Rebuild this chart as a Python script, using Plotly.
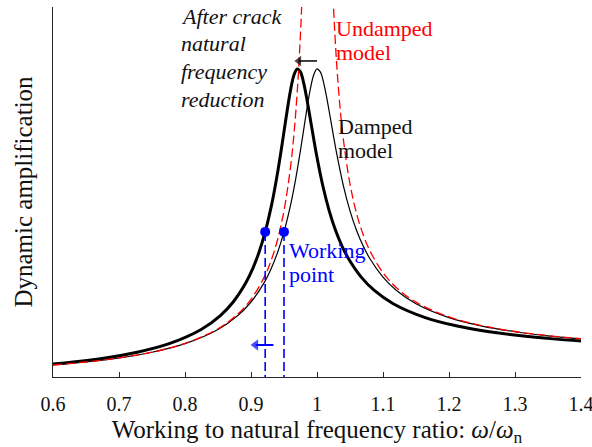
import plotly.graph_objects as go

# Frequency ratio samples (omega / omega_n) for the intact damped model
ratio_intact = [0.61, 0.65, 0.70, 0.75, 0.80, 0.85, 0.88, 0.90, 0.92, 0.93, 0.94, 0.95,
                0.96, 0.965, 0.97, 0.975, 0.98, 0.985, 0.99, 0.995, 1.0, 1.005, 1.01,
                1.015, 1.02, 1.025, 1.03, 1.04, 1.05, 1.06, 1.07, 1.08, 1.10, 1.12,
                1.15, 1.20, 1.25, 1.30, 1.35, 1.40, 1.45]
amp_damped = [0.592, 0.730, 0.958, 1.279, 1.763, 2.564, 3.348, 4.111, 5.205, 5.946,
              6.874, 8.059, 9.584, 10.502, 11.531, 12.663, 13.863, 15.059, 16.128,
              16.904, 17.241, 17.076, 16.472, 15.567, 14.523, 13.456, 12.436, 10.659,
              9.247, 8.139, 7.263, 6.560, 5.513, 4.777, 4.016, 3.233, 2.755, 2.435,
              2.206, 2.034, 1.902]

# Damped response after the crack (natural frequency lowered)
ratio_cracked = [0.5917, 0.6305, 0.679, 0.7275, 0.776, 0.8245, 0.8536, 0.873, 0.8924,
                 0.9021, 0.9118, 0.9215, 0.9312, 0.93605, 0.9409, 0.94575, 0.9506,
                 0.95545, 0.9603, 0.96515, 0.97, 0.97485, 0.9797, 0.98455, 0.9894,
                 0.99425, 0.9991, 1.0088, 1.0185, 1.0282, 1.0379, 1.0476, 1.067,
                 1.0864, 1.1155, 1.164, 1.2125, 1.261, 1.3095, 1.358, 1.4065]
amp_cracked = [0.592, 0.730, 0.958, 1.279, 1.763, 2.564, 3.348, 4.111, 5.205, 5.946,
               6.874, 8.059, 9.584, 10.502, 11.531, 12.663, 13.863, 15.059, 16.128,
               16.904, 17.241, 17.076, 16.472, 15.567, 14.523, 13.456, 12.436, 10.659,
               9.247, 8.139, 7.263, 6.560, 5.513, 4.777, 4.016, 3.233, 2.755, 2.435,
               2.206, 2.034, 1.902]

# Undamped model: two branches either side of resonance
ratio_undamped_lo = [0.60, 0.65, 0.70, 0.75, 0.80, 0.85, 0.88, 0.90, 0.92, 0.93, 0.94,
                     0.95, 0.96, 0.965, 0.97, 0.975, 0.9775, 0.98]
amp_undamped_lo = [0.5625, 0.7316, 0.9608, 1.2857, 1.7778, 2.6036, 3.4326, 4.2632,
                   5.5104, 6.4019, 7.5911, 9.2564, 11.755, 13.540, 15.921, 19.253,
                   21.475, 24.253]
ratio_undamped_hi = [1.02, 1.025, 1.03, 1.035, 1.04, 1.05, 1.06, 1.07, 1.08, 1.10, 1.12,
                     1.15, 1.20, 1.25, 1.30, 1.35, 1.40]
amp_undamped_hi = [25.752, 20.753, 17.420, 15.040, 13.255, 10.756, 9.0906, 7.9013,
                   7.0096, 5.7619, 4.9308, 4.1008, 3.2727, 2.7778, 2.4493, 2.2158,
                   2.0417]

# Working points (before / after the crack) and the shift arrows
work_x = [0.9215, 0.95]
work_y = [8.06, 8.06]
peak_shift_x = [1.0, 0.9725]     # tail, head
peak_shift_y = [17.69, 17.69]
work_shift_x = [0.934, 0.907]    # tail, head
work_shift_y = [1.69, 1.69]

tick_vals = [0.6, 0.7, 0.8, 0.9, 1.0, 1.1, 1.2, 1.3, 1.4]
tick_text = ["0.6", "0.7", "0.8", "0.9", "1", "1.1", "1.2", "1.3", "1.4"]

y_range = [-0.114, 20.73]
serif = "Liberation Serif, Times New Roman, serif"
blue = "#0000ff"

fig = go.Figure()

fig.add_trace(go.Scatter(x=ratio_intact, y=amp_damped, mode="lines",
                         line=dict(color="black", width=1.2, shape="spline"),
                         hoverinfo="skip"))
fig.add_trace(go.Scatter(x=ratio_cracked, y=amp_cracked, mode="lines",
                         line=dict(color="black", width=3, shape="spline"),
                         hoverinfo="skip"))
fig.add_trace(go.Scatter(x=ratio_undamped_lo + [None] + ratio_undamped_hi,
                         y=amp_undamped_lo + [None] + amp_undamped_hi,
                         mode="lines", connectgaps=False,
                         line=dict(color="#ff0000", width=1.3, dash="9px,4px",
                                   shape="spline"),
                         hoverinfo="skip"))

# Dashed drop lines from each working point to the frequency axis
for wx, wy in zip(work_x, work_y):
    fig.add_trace(go.Scatter(x=[wx, wx], y=[wy, y_range[0]], mode="lines",
                             line=dict(color=blue, width=1.6, dash="9px,4px"),
                             hoverinfo="skip", cliponaxis=False))
fig.add_trace(go.Scatter(x=work_x, y=work_y, mode="markers",
                         marker=dict(color=blue, size=10), hoverinfo="skip"))


# Shift arrows: a shaft with a triangular head at its second point
def arrow(xs, ys, color, width, head):
    fig.add_trace(go.Scatter(x=xs, y=ys, mode="lines+markers",
                             line=dict(color=color, width=width),
                             marker=dict(symbol="triangle-left", color=color,
                                         size=[0, head], line=dict(width=0)),
                             hoverinfo="skip"))


arrow(peak_shift_x, peak_shift_y, "black", 1.5, 9)
arrow(work_shift_x, work_shift_y, blue, 2, 10)


# Text labels
def label(text, x, y, color, italic=False, size=22):
    fig.add_annotation(x=x, y=y, xref="paper", yref="paper", text=text,
                       showarrow=False, xanchor="left", yanchor="middle",
                       align="left",
                       font=dict(family=serif, size=size, color=color,
                                 style="italic" if italic else "normal"))


for txt, yy in zip(["After crack", "natural", "frequency", "reduction"],
                   [0.973, 0.900, 0.827, 0.751]):
    label(txt, 0.238, yy, "#111111", italic=True, size=22)
label("Undamped", 0.532, 0.943, "#ff0000")
label("model", 0.532, 0.876, "#ff0000")
label("Damped", 0.536, 0.678, "#111111")
label("model", 0.536, 0.611, "#111111")
label("Working", 0.443, 0.341, blue)
label("point", 0.443, 0.276, blue)

fig.update_layout(
    width=592, height=447,
    margin=dict(l=53, r=11, t=7, b=70),
    paper_bgcolor="white", plot_bgcolor="white",
    showlegend=False,
    font=dict(family=serif, color="#111111"),
    xaxis=dict(range=[0.6, 1.4], tickvals=tick_vals, ticktext=tick_text,
               ticks="inside", ticklen=5, tickwidth=1, tickcolor="#262626",
               showline=True, linecolor="#262626", linewidth=1,
               showgrid=False, zeroline=False, automargin=False,
               ticklabeloverflow="allow", ticklabelstandoff=9,
               tickfont=dict(family=serif, size=20, color="#111111"),
               title=dict(text="Working to natural frequency ratio: <i>ω</i>/<i>ω</i><sub>n</sub>",
                          font=dict(family=serif, size=25, color="#111111"),
                          standoff=16)),
    yaxis=dict(range=y_range, showticklabels=False, ticks="",
               showline=True, linecolor="#262626", linewidth=1,
               showgrid=False, zeroline=False, automargin=False,
               title=dict(text="Dynamic amplification",
                          font=dict(family=serif, size=25, color="#111111"),
                          standoff=12)),
)

fig.write_html("out.html")
